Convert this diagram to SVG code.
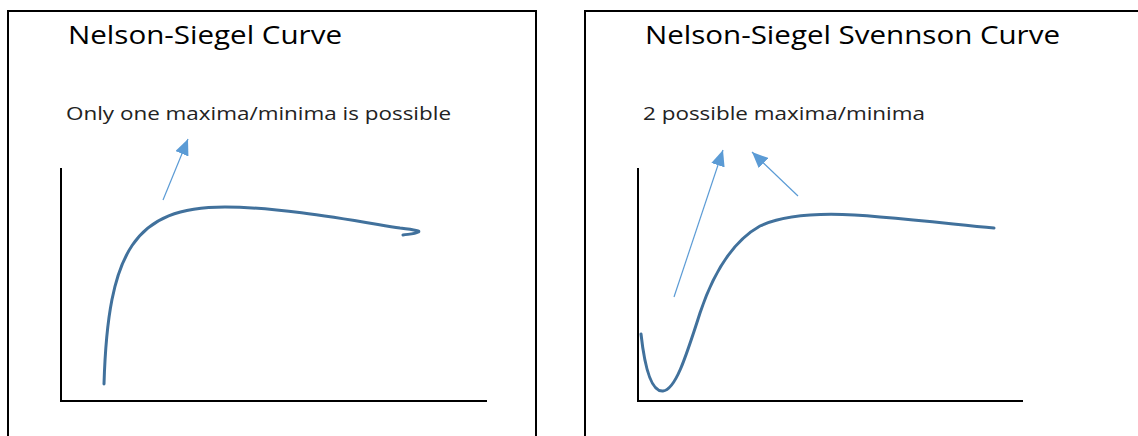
<svg xmlns="http://www.w3.org/2000/svg" width="1138" height="436" viewBox="0 0 1138 436">
<style>
.frame{fill:none;stroke:#000;stroke-width:2}
.axis{fill:none;stroke:#000;stroke-width:2}
.curve{fill:none;stroke:#41719C;stroke-width:3;stroke-linecap:round}
.ptr{fill:none;stroke:#5B9BD5;stroke-width:1.2}
.title{font-family:"Open Sans","Liberation Sans",sans-serif;font-size:26px;fill:#000}
.sub{font-family:"Open Sans","Liberation Sans",sans-serif;font-size:19px;fill:#222}
</style>
<defs>
<marker id="ah" markerUnits="userSpaceOnUse" viewBox="0 0 16 14" refX="16" refY="7" markerWidth="16" markerHeight="14" orient="auto">
<path d="M0,0 L16,7 L0,14 z" fill="#5B9BD5"/>
</marker>
</defs>
<rect width="1138" height="436" fill="#fff"/>
<g id="panel-left">
<path class="frame" d="M8,436 V11 H536 V436"/>
<text class="title" x="68" y="44" textLength="274" lengthAdjust="spacingAndGlyphs">Nelson-Siegel Curve</text>
<text class="sub" x="66" y="120" textLength="385" lengthAdjust="spacingAndGlyphs">Only one maxima/minima is possible</text>
<path class="axis" d="M61,168 V401 H487"/>
<path class="curve" d="M104,384 C108,250 135,207 225,207 C280,207 350,220 400,228 C416,230 421,231 418,232 C415,234 410,234 403,235"/>
</g>
<g id="panel-right">
<path class="frame" d="M585,436 V11 H1138"/>
<text class="title" x="645" y="44" textLength="415" lengthAdjust="spacingAndGlyphs">Nelson-Siegel Svennson Curve</text>
<text class="sub" x="643" y="120" textLength="282" lengthAdjust="spacingAndGlyphs">2 possible maxima/minima</text>
<path class="axis" d="M638,168 V401 H1023"/>
<path class="curve" d="M641,334 C645,370 652,392 663,391 C675,390 685,360 700,313 C715,268 735,240 760,226 C790,212 840,213 880,217 C930,221 960,225 994,228"/>
</g>
<g id="connectors">
<line class="ptr" x1="163" y1="200" x2="188" y2="139" marker-end="url(#ah)"/>
<line class="ptr" x1="674" y1="297" x2="723" y2="150" marker-end="url(#ah)"/>
<line class="ptr" x1="798" y1="196" x2="752" y2="152" marker-end="url(#ah)"/>
</g>
</svg>
